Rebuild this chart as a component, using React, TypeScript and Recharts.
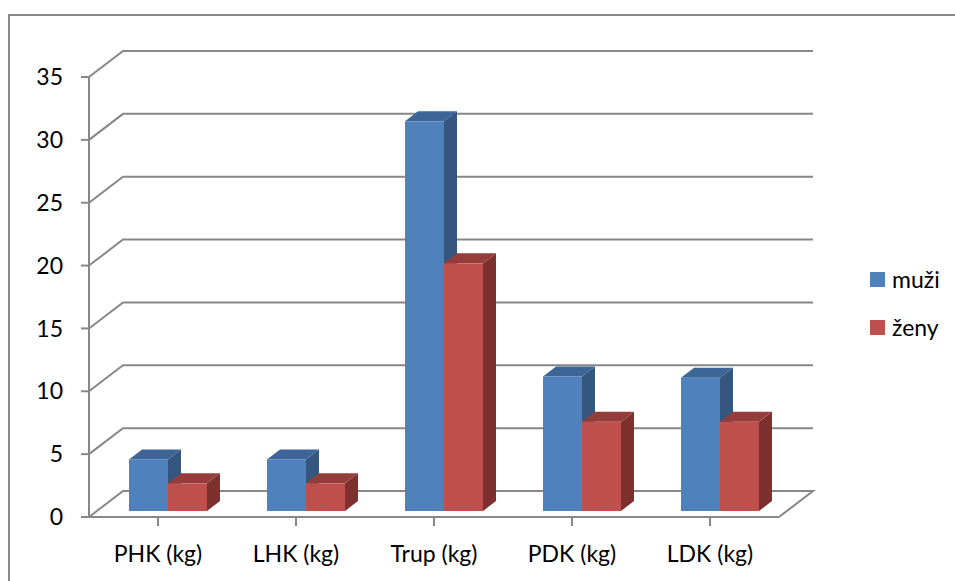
import React from 'react';
import { BarChart, Bar, XAxis, YAxis, CartesianGrid } from 'recharts';

const categories = ['PHK (kg)', 'LHK (kg)', 'Trup (kg)', 'PDK (kg)', 'LDK (kg)'];
const muzi = [4.1, 4.1, 31, 10.7, 10.6];
const zeny = [2.2, 2.2, 19.7, 7.1, 7.1];
const yTicks = [0, 5, 10, 15, 20, 25, 30, 35];
const seriesNames = ['muži', 'ženy'];
const seriesColors = ['#4F81BD', '#C0504D'];
const topColors = ['#3D6597', '#953D3B'];
const sideColors = ['#34567F', '#7E302E'];

const data = categories.map((c, i) => ({ name: c, muzi: muzi[i], zeny: zeny[i] }));

const W = 955;
const H = 581;
const MT = 77;
const PLOT_BOTTOM = 517;
const WALL_DX = 34;
const WALL_DY = -26;
const BAR_OX = 10;
const BAR_OY = -6;
const DEPTH_DX = 13;
const DEPTH_DY = -10;
const GRID = '#878787';
const FONT = 'Lato, "Open Sans", sans-serif';

const makeBar = (idx: number) => (props: any) => {
  const { x, y, width, height } = props;
  if (width == null || height == null) return <g />;
  const fx = x + BAR_OX;
  const fy = y + BAR_OY;
  const top = `${fx},${fy} ${fx + DEPTH_DX},${fy + DEPTH_DY} ${fx + width + DEPTH_DX},${fy + DEPTH_DY} ${fx + width},${fy}`;
  const side = `${fx + width},${fy} ${fx + width + DEPTH_DX},${fy + DEPTH_DY} ${fx + width + DEPTH_DX},${fy + height + DEPTH_DY} ${fx + width},${fy + height}`;
  return (
    <g>
      <polygon points={side} fill={sideColors[idx]} />
      <polygon points={top} fill={topColors[idx]} />
      <rect x={fx} y={fy} width={width} height={height} fill={seriesColors[idx]} />
    </g>
  );
};

const gridLine = (props: any) => {
  const { x1, x2, y1 } = props;
  const isFloor = Math.abs(y1 - PLOT_BOTTOM) < 1.5;
  let d = `M${x1},${y1} L${x1 + WALL_DX},${y1 + WALL_DY} L${x2 + WALL_DX},${y1 + WALL_DY}`;
  if (isFloor) d += ` L${x2},${y1}`;
  return <path key={`g-${y1}`} d={d} stroke={GRID} strokeWidth={2} fill="none" />;
};

export default function App() {
  return (
    <div style={{ position: 'absolute', left: 0, top: 0, width: W, height: H, overflow: 'hidden', background: '#fff' }}>
      <div
        style={{
          position: 'absolute',
          left: 8,
          top: 14,
          width: W + 40,
          height: H + 40,
          border: '2px solid #888',
          boxSizing: 'border-box',
        }}
      />
      <div style={{ position: 'absolute', left: 0, top: 0 }}>
        <BarChart
          width={W}
          height={H}
          data={data}
          margin={{ top: MT, right: 176, bottom: 0, left: 0 }}
          barGap={0}
          barSize={39}
        >
          <CartesianGrid vertical={false} horizontal={gridLine} />
          <XAxis
            dataKey="name"
            height={H - PLOT_BOTTOM}
            axisLine={{ stroke: GRID, strokeWidth: 2 }}
            tickLine={{ stroke: GRID, strokeWidth: 2 }}
            tickSize={9}
            tickMargin={20}
            interval={0}
            tick={{ fill: '#000', fontSize: 23, fontFamily: FONT }}
          />
          <YAxis
            width={89}
            domain={[0, 35]}
            ticks={yTicks}
            interval={0}
            axisLine={{ stroke: GRID, strokeWidth: 2 }}
            tickLine={{ stroke: GRID, strokeWidth: 2 }}
            tickSize={8}
            tickMargin={18}
            tick={{ fill: '#000', fontSize: 23, fontFamily: FONT }}
          />
          <Bar dataKey="muzi" name={seriesNames[0]} fill={seriesColors[0]} isAnimationActive={false} shape={makeBar(0)} />
          <Bar dataKey="zeny" name={seriesNames[1]} fill={seriesColors[1]} isAnimationActive={false} shape={makeBar(1)} />
        </BarChart>
      </div>
      <div style={{ position: 'absolute', left: 870, top: 255, fontFamily: FONT, fontSize: 23, color: '#000' }}>
        {seriesNames.map((n, i) => (
          <div key={n} style={{ display: 'flex', alignItems: 'center', height: 48 }}>
            <div style={{ width: 15, height: 15, background: seriesColors[i], marginRight: 7 }} />
            <span>{n}</span>
          </div>
        ))}
      </div>
    </div>
  );
}
